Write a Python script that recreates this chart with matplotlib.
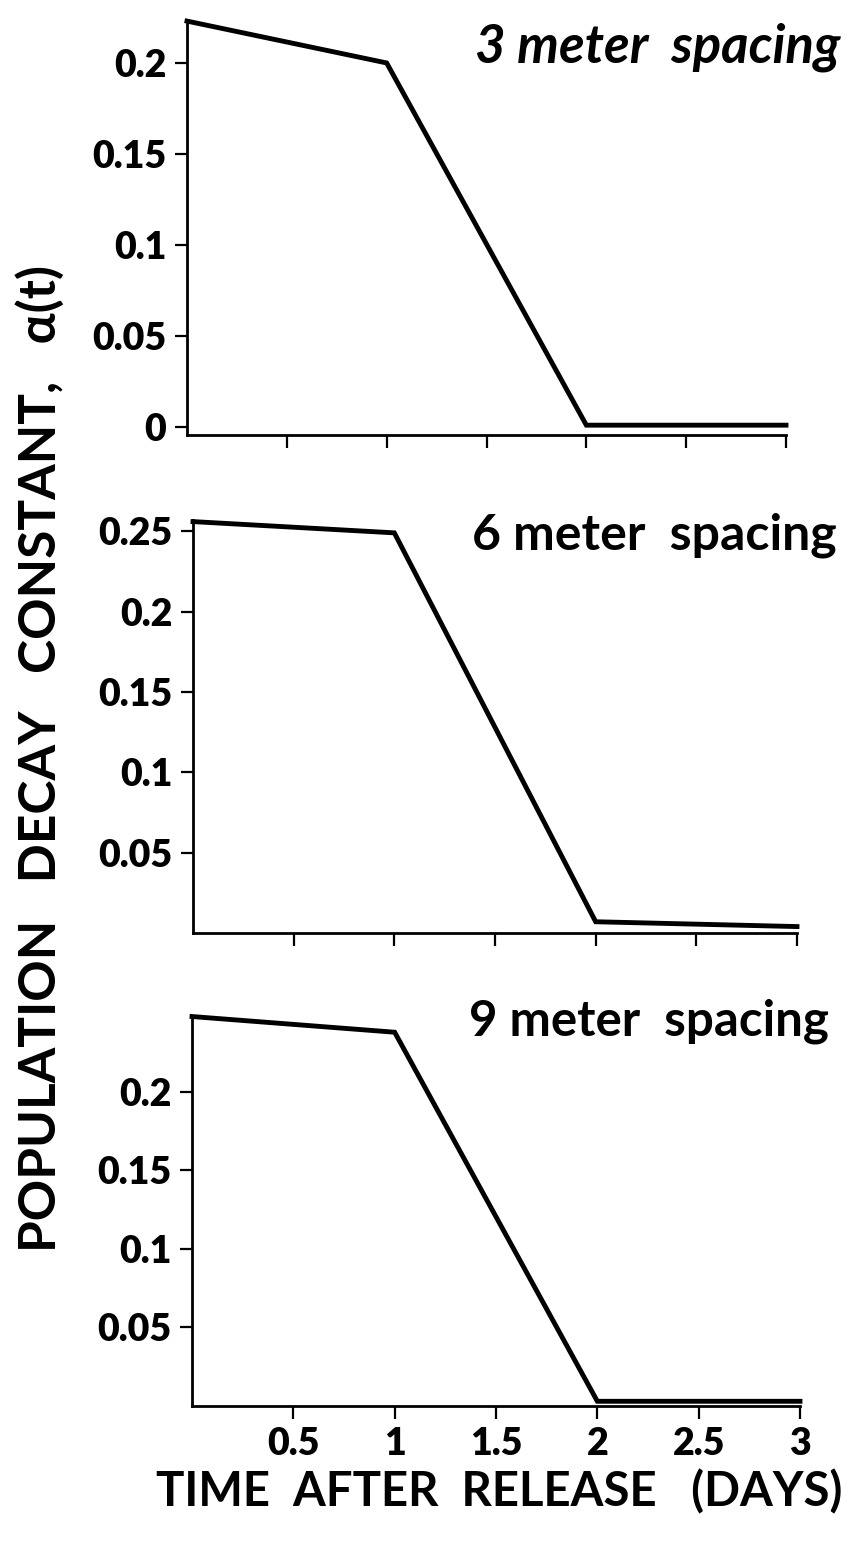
import matplotlib.pyplot as plt

# time after release (days) and decay constant alpha(t) for each spacing
days = [0, 1, 2, 3]
alpha_3m = [0.223, 0.200, 0.001, 0.001]
alpha_6m = [0.256, 0.249, 0.007, 0.004]
alpha_9m = [0.248, 0.238, 0.003, 0.003]

titles = ["3 meter  spacing", "6 meter  spacing", "9 meter  spacing"]

xticks = [0.5, 1, 1.5, 2, 2.5, 3]
xtick_labels = ["0.5", "1", "1.5", "2", "2.5", "3"]

yticks_3m = [0, 0.05, 0.1, 0.15, 0.2]
ylabels_3m = ["0", "0.05", "0.1", "0.15", "0.2"]
yticks_6m = [0.05, 0.1, 0.15, 0.2, 0.25]
ylabels_6m = ["0.05", "0.1", "0.15", "0.2", "0.25"]
yticks_9m = [0.05, 0.1, 0.15, 0.2]
ylabels_9m = ["0.05", "0.1", "0.15", "0.2"]

FONT = "Lato"
W, H = 848, 1549

fig = plt.figure(figsize=(W / 100, H / 100), dpi=100)


def px_box(left, top, right, bottom):
    return [left / W, 1 - bottom / H, (right - left) / W, (bottom - top) / H]


panels = [
    (px_box(187, 20, 786, 435), alpha_3m, (-0.0044, 0.2236), yticks_3m, ylabels_3m, (840, 63), 38),
    (px_box(193, 520, 797, 933), alpha_6m, (0.0, 0.257), yticks_6m, ylabels_6m, (837, 550), 36),
    (px_box(192, 1017, 800, 1406), alpha_9m, (0.0, 0.2477), yticks_9m, ylabels_9m, (829, 1035), 35.5),
]

for i, (box, vals, ylim, yt, yl, tpos, tsize) in enumerate(panels):
    ax = fig.add_axes(box)
    ax.plot(days, vals, color="black", lw=3.5, clip_on=False, solid_joinstyle="miter")
    ax.set_xlim(0, 3)
    ax.set_ylim(*ylim)
    ax.spines["top"].set_visible(False)
    ax.spines["right"].set_visible(False)
    for s in ["left", "bottom"]:
        ax.spines[s].set_linewidth(2)
    ax.tick_params(direction="out", length=9, width=1.6, pad=6)
    ax.set_yticks(yt)
    ax.set_yticklabels(yl, fontsize=27, fontweight="heavy", family=FONT)
    ax.set_xticks(xticks)
    if i == 2:
        ax.set_xticklabels(xtick_labels, fontsize=27, fontweight="heavy", family=FONT)
    else:
        ax.set_xticklabels([])
    fig.text(tpos[0] / W, 1 - tpos[1] / H, titles[i], ha="right", va="baseline",
             fontsize=tsize, fontweight="bold", family=FONT, style="italic" if i == 0 else "normal")

fig.text(40 / W, 1 - 758 / H, "POPULATION   DECAY   CONSTANT,   \u03b1(t)", rotation=90,
         ha="center", va="center", fontsize=37, fontweight="bold", family=["Lato", "DejaVu Sans"])
fig.text(499 / W, 1 - 1492 / H, "TIME  AFTER  RELEASE   (DAYS)", ha="center", va="center",
         fontsize=34, fontweight="bold", family=FONT)

plt.savefig("out.png", dpi=100)
